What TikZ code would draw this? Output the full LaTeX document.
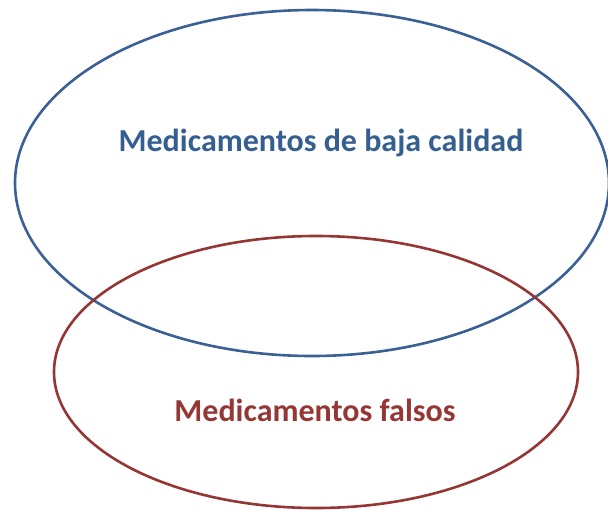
\documentclass[tikz,border=0pt]{standalone}
\usepackage{fontspec}
\setmainfont{Carlito}
\usetikzlibrary{shapes.geometric}
\definecolor{bblue}{HTML}{3A6096}
\definecolor{rred}{HTML}{943634}
\definecolor{tblue}{HTML}{365F91}
\definecolor{tred}{HTML}{953735}
\tikzset{
  ring/.style={draw, line width=2.6pt},
  lbl/.style={font=\bfseries\fontsize{32}{38}\selectfont, anchor=center}
}
\begin{document}
\begin{tikzpicture}[x=1pt,y=-1pt]
\useasboundingbox (0,0) rectangle (608,509);
\clip (0,0) rectangle (608,509);
\draw[ring, bblue] (312,183) ellipse [x radius=297, y radius=173];
\draw[ring, rred] (316,372) ellipse [x radius=262, y radius=136];
\node[lbl, text=tblue] (blue) at (321,143) {Medicamentos de baja calidad};
\node[lbl, text=tred] (red) at (315,410) {Medicamentos falsos};
\end{tikzpicture}
\end{document}
